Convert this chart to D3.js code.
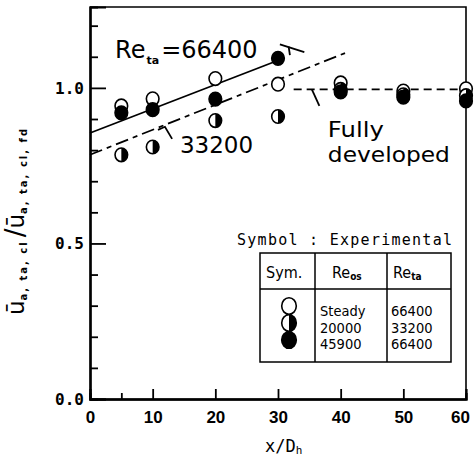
<!DOCTYPE html>
<html>
<head>
<meta charset="utf-8">
<script src="https://cdn.jsdelivr.net/npm/d3@7"></script>
<style>
  body { margin: 0; background: #fff; }
  svg { display: block; }
</style>
</head>
<body>
<svg></svg>
<script>
const width = 474;
const height = 463;

// Data
const stations = [5, 10, 20, 30, 40, 50, 60];
const steady66400 = [0.942, 0.965, 1.03, 1.012, 1.016, 0.99, 0.997];
const puls33200 = [0.785, 0.81, 0.895, 0.908, 0.995, 0.978, 0.975];
const puls66400 = [0.92, 0.93, 0.964, 1.095, 0.987, 0.97, 0.958];

// fitted lines
const fit66400X = [0, 31];
const fit66400Y = [0.855, 1.096];
const fit33200X = [0, 40.7];
const fit33200Y = [0.785, 1.112];
const fullyDevX = [32.5, 60];
const fullyDevY = [0.995, 0.995];

const yMajor = [0, 0.5, 1.0];
const yMinor = [0.1, 0.2, 0.3, 0.4, 0.6, 0.7, 0.8, 0.9, 1.1, 1.2];
const xMajor = [10, 20, 30, 40, 50];
const xMinor = [5];
const xLabels = [0, 10, 20, 30, 40, 50, 60];

const legendSym = ["open", "half", "filled"];
const legendReos = ["Steady", "20000", "45900"];
const legendReta = ["66400", "33200", "66400"];

const svg = d3.select("svg")
    .attr("width", width)
    .attr("height", height);

svg.append("rect").attr("width", width).attr("height", height).attr("fill", "#fff");

const x = d3.scaleLinear().domain([0, 60]).range([90, 466]);
const y = d3.scaleLinear().domain([0, 1.26]).range([399, 7]);

// frame
svg.append("path")
    .attr("d", `M${x(0)},${y(1.26)}H${x(60)}V${y(0)}`)
    .attr("fill", "none").attr("stroke", "#000").attr("stroke-width", 1.6);

// y axis: major + minor, ticks pointing inward
const yAxisMajor = svg.append("g")
    .attr("transform", `translate(${x(0)},0)`)
    .call(d3.axisLeft(y).tickValues(yMajor).tickSize(-16).tickPadding(6)
        .tickFormat(d3.format(".1f")));
svg.append("g")
    .attr("transform", `translate(${x(0)},0)`)
    .call(d3.axisLeft(y).tickValues(yMinor).tickSize(-8).tickFormat(""));

// x axis
const xAxisLab = svg.append("g")
    .attr("transform", `translate(0,${y(0)})`)
    .call(d3.axisBottom(x).tickValues(xLabels).tickSize(0).tickPadding(12)
        .tickFormat(d3.format("d")));
svg.append("g")
    .attr("transform", `translate(0,${y(0)})`)
    .call(d3.axisBottom(x).tickValues(xMajor).tickSize(-10).tickFormat(""));
svg.append("g")
    .attr("transform", `translate(0,${y(0)})`)
    .call(d3.axisBottom(x).tickValues(xMinor).tickSize(-6).tickFormat(""));

svg.selectAll(".domain").attr("stroke", "#000").attr("stroke-width", 2.2);
svg.selectAll(".tick line").attr("stroke", "#000").attr("stroke-width", 1.8);
yAxisMajor.selectAll("text")
    .attr("font-family", "DejaVu Sans Mono").attr("font-weight", "bold")
    .attr("font-size", 16).attr("fill", "#000");
xAxisLab.selectAll("text")
    .attr("font-family", "Liberation Sans").attr("font-weight", "bold")
    .attr("font-size", 17).attr("fill", "#000")
    .attr("dx", d => d === 60 ? -6 : 0);

// lines
const line = d3.line().x(d => x(d[0])).y(d => y(d[1]));
svg.append("path")
    .attr("d", line(d3.zip(fit66400X, fit66400Y)))
    .attr("fill", "none").attr("stroke", "#000").attr("stroke-width", 1.8);
svg.append("path")
    .attr("d", line(d3.zip(fit33200X, fit33200Y)))
    .attr("fill", "none").attr("stroke", "#000").attr("stroke-width", 1.8)
    .attr("stroke-dasharray", "13,5,5,5");
svg.append("path")
    .attr("d", line(d3.zip(fullyDevX, fullyDevY)))
    .attr("fill", "none").attr("stroke", "#000").attr("stroke-width", 1.8)
    .attr("stroke-dasharray", "8,5");

// leader marks
const leaders = [
    [[30.3, 1.14], [34.2, 1.115]],
    [[31.7, 1.133], [31.9, 1.105]],
    [[10.85, 0.865], [11.96, 0.875], [13.1, 0.836]],
    [[35.4, 0.995], [36.6, 0.942]]
];
svg.selectAll(".leader").data(leaders).enter().append("path")
    .attr("class", "leader")
    .attr("d", line)
    .attr("fill", "none").attr("stroke", "#000").attr("stroke-width", 1.8);

// markers
function drawMarker(g, kind, rx, ry) {
    g.append("ellipse").attr("rx", rx).attr("ry", ry)
        .attr("fill", kind === "filled" ? "#000" : "#fff")
        .attr("stroke", "#000").attr("stroke-width", 1.6);
    if (kind === "half") {
        g.append("path")
            .attr("d", `M0,${-ry}A${rx},${ry} 0 0 1 0,${ry}Z`)
            .attr("fill", "#000");
    }
}

const series = [
    {kind: "open", values: steady66400},
    {kind: "half", values: puls33200},
    {kind: "filled", values: puls66400}
];
series.forEach(s => {
    svg.selectAll(null).data(d3.zip(stations, s.values)).enter().append("g")
        .attr("transform", d => `translate(${x(d[0])},${y(d[1])})`)
        .each(function() { drawMarker(d3.select(this), s.kind, 6.3, 6.8); });
});

// annotations
const bigFont = "DejaVu Sans";
const reLab = svg.append("text").attr("x", x(4.0)).attr("y", y(1.096))
    .attr("font-family", bigFont).attr("font-size", 24);
reLab.append("tspan").text("Re");
reLab.append("tspan").attr("font-size", 11).attr("font-weight", "bold")
    .attr("dy", 6).attr("dx", 1).text("ta");
reLab.append("tspan").attr("dy", -6).attr("dx", 2).text("=66400");
svg.append("text").attr("x", x(14.35)).attr("y", y(0.791))
    .attr("font-family", bigFont).attr("font-size", 23)
    .text("33200");
svg.append("text").attr("x", x(37.96)).attr("y", y(0.842))
    .attr("font-family", bigFont).attr("font-size", 21)
    .attr("textLength", 56).attr("lengthAdjust", "spacingAndGlyphs")
    .text("Fully");
svg.append("text").attr("x", x(37.96)).attr("y", y(0.762))
    .attr("font-family", bigFont).attr("font-size", 21)
    .attr("textLength", 122).attr("lengthAdjust", "spacingAndGlyphs")
    .text("developed");

// axis titles
const xt = svg.append("text").attr("x", 265).attr("y", 452)
    .attr("font-family", "DejaVu Sans Mono").attr("font-size", 17);
xt.append("tspan").text("x/D");
xt.append("tspan").attr("font-size", 11).attr("dy", 2).text("h");

const yt = svg.append("text")
    .attr("transform", "translate(24,221) rotate(-90)")
    .attr("text-anchor", "middle")
    .attr("font-family", "DejaVu Sans");
yt.append("tspan").attr("font-size", 23).text("ū");
yt.append("tspan").attr("font-size", 10).attr("font-weight", "bold").attr("dy", 3)
    .attr("letter-spacing", 2).text("a, ta,  cl");
yt.append("tspan").attr("font-size", 26).attr("dy", -3).attr("dx", 3).text("/");
yt.append("tspan").attr("font-size", 23).text("ū");
yt.append("tspan").attr("font-size", 10).attr("font-weight", "bold").attr("dy", 3)
    .attr("letter-spacing", 2).text("a, ta,  cl, fd");

// legend
svg.append("text").attr("x", 237).attr("y", 245)
    .attr("font-family", "DejaVu Sans Mono").attr("font-size", 15)
    .attr("textLength", 215).text("Symbol : Experimental");

const tbl = svg.append("g").attr("stroke", "#000").attr("stroke-width", 1.5).attr("fill", "none");
tbl.append("rect").attr("x", 260).attr("y", 253).attr("width", 191).attr("height", 109);
tbl.append("line").attr("x1", 315).attr("x2", 315).attr("y1", 253).attr("y2", 362);
tbl.append("line").attr("x1", 387).attr("x2", 387).attr("y1", 253).attr("y2", 362);
tbl.append("line").attr("x1", 260).attr("x2", 451).attr("y1", 289).attr("y2", 289);

const hdrFont = "DejaVu Sans Condensed";
svg.append("text").attr("x", 266).attr("y", 278)
    .attr("font-family", hdrFont).attr("font-size", 16).text("Sym.");
const h2 = svg.append("text").attr("x", 332).attr("y", 278)
    .attr("font-family", hdrFont).attr("font-size", 16);
h2.append("tspan").text("Re");
h2.append("tspan").attr("font-size", 10).attr("font-weight", "bold").attr("dy", 2).text("os");
const h3 = svg.append("text").attr("x", 393).attr("y", 278)
    .attr("font-family", hdrFont).attr("font-size", 16);
h3.append("tspan").text("Re");
h3.append("tspan").attr("font-size", 10).attr("font-weight", "bold").attr("dy", 2).text("ta");

legendSym.forEach((k, i) => {
    const g = svg.append("g").attr("transform", `translate(289,${306 + i * 17})`);
    drawMarker(g, k, 7.3, 8.3);
});
svg.selectAll(".reos").data(legendReos).enter().append("text")
    .attr("x", 320).attr("y", (d, i) => 316 + i * 16.5)
    .attr("font-family", hdrFont).attr("font-size", 14.5).text(d => d);
svg.selectAll(".reta").data(legendReta).enter().append("text")
    .attr("x", 391).attr("y", (d, i) => 316 + i * 16.5)
    .attr("font-family", hdrFont).attr("font-size", 14.5).text(d => d);
</script>
</body>
</html>
